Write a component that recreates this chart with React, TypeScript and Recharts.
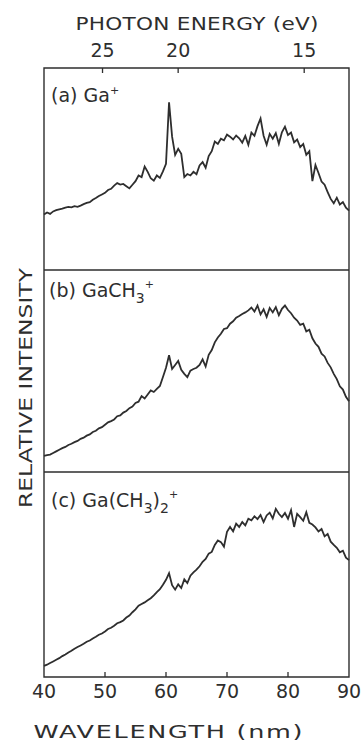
import { LineChart, Line, XAxis, YAxis, ReferenceArea } from "recharts"

// photon energy (eV) <-> wavelength (nm)
const HC = 1239.84

const WAVELENGTH_TICKS = [40, 50, 60, 70, 80, 90]
const INNER_TICKS = [50, 60, 70, 80]
const ENERGY_TICKS = [25, 20, 15]

const START_NM = 40
const STEP_NM = 0.5

const GA = [
  27.5, 28.5, 27.8, 29.0, 29.6, 30.0, 30.4, 30.9, 31.2, 31.0,
  31.6, 31.3, 31.9, 32.6, 33.2, 33.6, 34.8, 35.6, 36.6, 37.4,
  38.2, 39.6, 40.2, 41.8, 43.0, 42.3, 42.6, 41.5, 40.4, 42.2,
  44.0, 46.8, 46.0, 51.2, 48.6, 45.4, 44.2, 46.8, 45.6, 48.8,
  52.6, 83.0, 66.0, 57.0, 60.0, 57.5, 46.0, 47.5, 46.8, 48.6,
  47.4, 51.8, 53.4, 50.6, 56.4, 58.8, 63.6, 62.4, 65.0, 64.2,
  67.0, 66.0, 64.6, 66.6, 65.2, 63.0, 66.4, 62.0, 68.0, 66.4,
  71.2, 75.0, 66.5, 62.0, 67.4, 65.0, 67.8, 62.5, 68.2, 71.0,
  66.8, 68.0, 63.2, 64.6, 60.8, 62.4, 57.0, 58.8, 44.0, 52.0,
  48.0, 43.8, 42.2, 38.6, 35.2, 33.0, 35.8, 32.4, 33.6, 30.8,
  29.4,
]

const GACH3 = [
  8.0, 8.4, 8.6, 9.4, 10.2, 11.0, 11.8, 12.4, 13.4, 14.0,
  14.8, 15.4, 16.4, 17.0, 18.0, 18.6, 19.8, 20.4, 21.6, 22.2,
  23.4, 24.6, 25.2, 26.0, 27.6, 28.0, 29.4, 30.2, 31.6, 32.4,
  34.2, 34.8, 37.6, 36.4, 38.4, 40.4, 39.6, 41.2, 42.6, 47.0,
  51.6, 57.8, 51.0, 53.0, 55.0, 50.6, 48.6, 47.0, 50.2, 51.0,
  51.6, 53.0, 55.8, 52.2, 58.0, 60.4, 64.2, 66.6, 68.4, 70.8,
  71.2, 73.4, 74.6, 76.4, 77.2, 78.2, 79.0, 80.0, 81.4, 79.4,
  82.4, 78.0, 80.6, 76.8, 81.2, 79.0, 81.6, 77.6, 80.8, 82.4,
  80.2, 78.6, 76.4, 75.0, 72.8, 73.4, 69.6, 70.4, 66.2, 63.6,
  62.0, 58.6, 57.2, 54.0, 51.8, 48.6, 46.0, 42.4, 40.8, 37.2,
  35.0,
]

const GACH32 = [
  5.4, 6.0, 6.8, 7.6, 8.4, 9.2, 10.2, 11.0, 12.0, 12.8,
  13.8, 14.6, 15.4, 16.2, 17.2, 17.8, 18.8, 19.6, 20.6, 21.2,
  22.2, 23.4, 24.0, 25.0, 26.2, 26.8, 27.6, 29.0, 30.0, 31.6,
  33.0, 34.8, 35.6, 36.4, 37.4, 38.4, 39.8, 41.4, 42.8, 45.0,
  47.4, 50.6, 44.8, 42.6, 45.2, 43.4, 47.6, 45.8, 49.4, 51.0,
  52.4, 54.0, 56.2, 57.6, 60.2, 61.0, 64.4, 66.6, 65.8, 63.6,
  70.8, 73.2, 71.0, 74.8, 73.2, 75.6, 74.0, 77.2, 76.4, 78.4,
  77.0, 79.0, 75.6, 78.8, 80.2, 77.4, 82.0, 79.6, 78.0, 80.0,
  77.2, 81.4, 73.2, 79.6, 78.0, 76.2, 80.4, 75.2, 74.4, 73.0,
  71.0, 72.2, 68.6, 69.8, 66.0, 64.4, 63.0, 60.8, 61.6, 58.2,
  57.0,
]

const toRows = (vals: number[]) => vals.map((v, i) => ({ nm: START_NM + i * STEP_NM, v }))

const FONT = "'DejaVu Sans', sans-serif"
const INK = "#2e2e2e"
const W = 364
const MARGIN = { top: 0, right: 15, bottom: 0, left: 44 }
const TICK_LEN = 5

// tick drawn inward from the axis line, with an optional label outside
function BottomTick(props: any) {
  const { x, y, payload, showLabel } = props
  const edge = payload.value === 40 || payload.value === 90
  return (
    <g>
      {!edge && <line x1={x} x2={x} y1={y} y2={y - TICK_LEN} stroke={INK} strokeWidth={1.3} />}
      {showLabel && (
        <text x={x} y={y + 21} textAnchor="middle" fontSize={19} fontFamily={FONT} fill={INK}>
          {payload.value}
        </text>
      )}
    </g>
  )
}

function TopTick(props: any) {
  const { x, y, payload } = props
  return (
    <g>
      <line x1={x} x2={x} y1={y} y2={y + TICK_LEN} stroke={INK} strokeWidth={1.3} />
      <text x={x} y={y - 11} textAnchor="middle" fontSize={19} fontFamily={FONT} fill={INK}>
        {Math.round(HC / payload.value)}
      </text>
    </g>
  )
}

function Panel({ values, height, top, bottom }: { values: number[]; height: number; top?: boolean; bottom?: boolean }) {
  return (
    <LineChart width={W} height={height} data={toRows(values)} margin={MARGIN}>
      {top && (
        <XAxis
          xAxisId="t"
          orientation="top"
          type="number"
          dataKey="nm"
          domain={[40, 90]}
          ticks={ENERGY_TICKS.map((e) => HC / e)}
          interval={0}
          height={68}
          tickSize={0}
          tickMargin={0}
          tickLine={false}
          axisLine={false}
          tick={<TopTick />}
        />
      )}
      <XAxis
        xAxisId="b"
        type="number"
        dataKey="nm"
        domain={[40, 90]}
        ticks={bottom ? WAVELENGTH_TICKS : INNER_TICKS}
        interval={0}
        height={bottom ? 67 : 0}
        tickSize={0}
        tickMargin={0}
        tickLine={false}
        axisLine={false}
        tick={<BottomTick showLabel={!!bottom} />}
      />
      <YAxis yAxisId="l" domain={[0, 100]} hide />
      <ReferenceArea
        xAxisId="b"
        yAxisId="l"
        x1={40}
        x2={90}
        y1={0}
        y2={100}
        fill="none"
        stroke={INK}
        strokeWidth={1.4}
        ifOverflow="visible"
      />
      <Line
        xAxisId="b"
        yAxisId="l"
        dataKey="v"
        type="linear"
        stroke={INK}
        strokeWidth={1.8}
        dot={false}
        isAnimationActive={false}
      />
    </LineChart>
  )
}

export default function App() {
  return (
    <div style={{ position: "absolute", left: 0, top: 0, width: W, height: 744, background: "#fff" }}>
      <Panel values={GA} height={270} top />
      <Panel values={GACH3} height={202} />
      <Panel values={GACH32} height={272} bottom />

      <svg width={W} height={744} style={{ position: "absolute", left: 0, top: 0, pointerEvents: "none" }} fontFamily={FONT} fill={INK}>
        <text fontSize={18} textAnchor="middle" textLength={243 / 1.2} lengthAdjust="spacing" transform="translate(197 30) scale(1.2 1)">
          PHOTON ENERGY (eV)
        </text>
        <text fontSize={17} textAnchor="middle" textLength={269 / 1.5} lengthAdjust="spacing" transform="translate(168 738) scale(1.5 1)">
          WAVELENGTH (nm)
        </text>
        <text fontSize={18} textAnchor="middle" textLength={240 / 1.3} lengthAdjust="spacing" transform="translate(32 388) rotate(-90) scale(1.3 1)">
          RELATIVE INTENSITY
        </text>
        <text x={51} y={102} fontSize={19}>
          (a) Ga<tspan fontSize={11} dy={-8}>+</tspan>
        </text>
        <text x={49} y={297} fontSize={19}>
          (b) GaCH<tspan fontSize={14} dy={6}>3</tspan><tspan fontSize={11} dy={-15}>+</tspan>
        </text>
        <text x={51} y={507} fontSize={19}>
          (c) Ga(CH<tspan fontSize={14} dy={6}>3</tspan><tspan dy={-6}>)</tspan><tspan fontSize={14} dy={6}>2</tspan><tspan fontSize={11} dy={-15}>+</tspan>
        </text>
      </svg>
    </div>
  )
}
